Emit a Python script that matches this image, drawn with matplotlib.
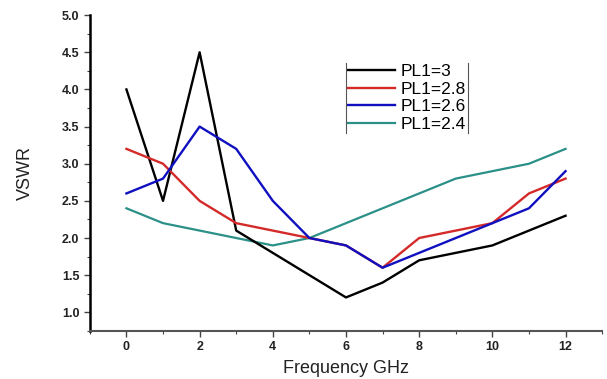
import numpy as np
import matplotlib
matplotlib.use("Agg")
import matplotlib.pyplot as plt
from matplotlib.ticker import MultipleLocator
from matplotlib.lines import Line2D

freq = [0, 1, 2, 3, 4, 5, 6, 7, 8, 9, 10, 11, 12]
pl1_30 = [4.0, 2.5, 4.5, 2.1, 1.8, 1.5, 1.2, 1.4, 1.7, 1.8, 1.9, 2.1, 2.3]
pl1_28 = [3.2, 3.0, 2.5, 2.2, 2.1, 2.0, 1.9, 1.6, 2.0, 2.1, 2.2, 2.6, 2.8]
pl1_26 = [2.6, 2.8, 3.5, 3.2, 2.5, 2.0, 1.9, 1.6, 1.8, 2.0, 2.2, 2.4, 2.9]
pl1_24 = [2.4, 2.2, 2.1, 2.0, 1.9, 2.0, 2.2, 2.4, 2.6, 2.8, 2.9, 3.0, 3.2]
labels = ["PL1=3", "PL1=2.8", "PL1=2.6", "PL1=2.4"]

plt.rcParams['font.family'] = ['Liberation Sans', 'DejaVu Sans']

fig = plt.figure(figsize=(6.07, 3.79), dpi=100)
ax = fig.add_axes([0.148, 0.127, 0.844, 0.833])

ax.plot(freq, pl1_24, color='#2a9088', lw=1.6, label=labels[3])
ax.plot(freq, pl1_30, color='black', lw=1.7, label=labels[0])
ax.plot(freq, pl1_28, color='#d42a2a', lw=1.7, label=labels[1])
ax.plot(freq, pl1_26, color='#1010c0', lw=1.7, label=labels[2])

ax.set_xlim(-1, 13)
ax.set_ylim(0.75, 5.0)
ax.xaxis.set_major_locator(MultipleLocator(2))
ax.xaxis.set_minor_locator(MultipleLocator(1))
ax.yaxis.set_major_locator(MultipleLocator(0.5))
ax.yaxis.set_minor_locator(MultipleLocator(0.25))
ax.yaxis.set_major_formatter(matplotlib.ticker.FormatStrFormatter('%.1f'))

for s in ['top', 'right']:
    ax.spines[s].set_visible(False)
ax.spines['left'].set_linewidth(1.8)
ax.spines['bottom'].set_linewidth(1.5)
ax.spines['bottom'].set_color('#555555')
ax.tick_params(which='major', direction='out', length=4, width=1.0, color='#444444')
ax.tick_params(which='minor', direction='out', length=2.5, width=0.8, color='#444444')
for t in ax.get_xticklabels() + ax.get_yticklabels():
    t.set_fontweight('bold')
    t.set_fontsize(9)
    t.set_color('#222222')

ax.set_xlabel('Frequency GHz', fontsize=13, color='#222222', labelpad=5)
ax.set_ylabel('VSWR', fontsize=13, color='#222222')
ax.yaxis.set_label_coords(-0.11, 0.5)

handles, labs = ax.get_legend_handles_labels()
order = [1, 2, 3, 0]
leg = ax.legend([handles[i] for i in order], [labs[i] for i in order],
                loc='upper left', bbox_to_anchor=(0.5, 0.85), frameon=False,
                fontsize=12.5, handlelength=2.7, handletextpad=0.35,
                labelspacing=0.13, borderpad=0.1, borderaxespad=0)

fig.canvas.draw()
bb = leg.get_window_extent().transformed(fig.transFigure.inverted())
for xx in [bb.x0, bb.x1]:
    fig.add_artist(Line2D([xx, xx], [bb.y0, bb.y1], color='#555555', lw=0.8,
                          transform=fig.transFigure))

fig.savefig('out.png', dpi=100)
